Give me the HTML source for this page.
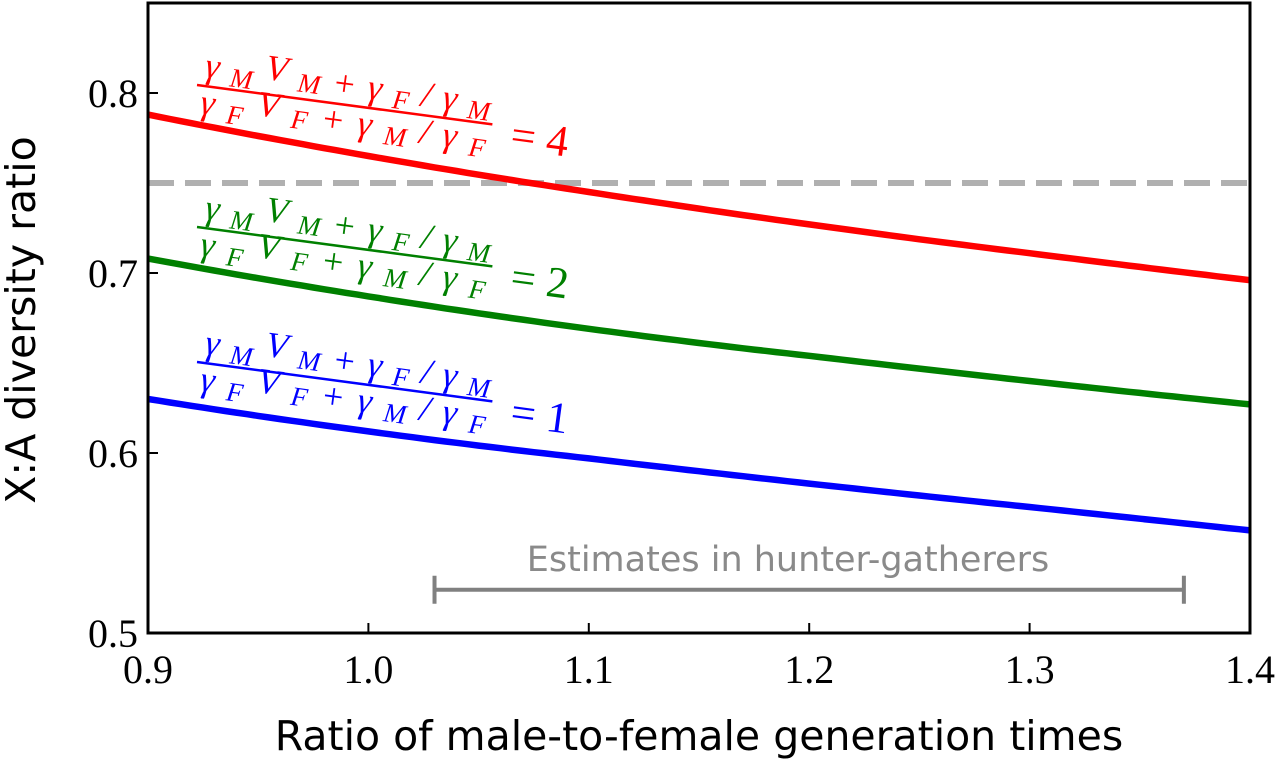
<!DOCTYPE html>
<html><head><meta charset="utf-8"><style>
body{margin:0;background:#fff;}
svg{display:block;}
</style></head><body>
<svg id="chart" width="1280" height="761" xmlns="http://www.w3.org/2000/svg">
<g id="plot"></g>
</svg>
<script>
const xs=[0.9,1.0,1.1,1.2,1.3,1.4];
const redVals=[0.788,0.765,0.745,0.727,0.711,0.696];
const greenVals=[0.708,0.687,0.669,0.654,0.640,0.627];
const blueVals=[0.630,0.612,0.597,0.583,0.570,0.557];
const xTicks=["0.9","1.0","1.1","1.2","1.3","1.4"];
const yTicks=["0.5","0.6","0.7","0.8"];
const refLine=0.75;
const estRange=[1.03,1.37];
const estY=0.524;

const NS="http://www.w3.org/2000/svg";
const L=148,R=1250,T=3,B=633;
const SERIF='font-family:"Liberation Serif",serif;';
const SANS='font-family:"DejaVu Sans","Liberation Sans",sans-serif;';
const X=v=>L+(v-0.9)/0.5*(R-L);
const Y=v=>B-(v-0.5)/0.35*(B-T);
const g=document.getElementById('plot');
function mk(t,a,p){const e=document.createElementNS(NS,t);for(const k in a)e.setAttribute(k,a[k]);(p||g).appendChild(e);return e;}

let e=mk('line',{x1:L,x2:R,y1:Y(refLine),y2:Y(refLine),stroke:'#b0b0b0','stroke-width':6,'stroke-dasharray':'26,11'});



function curve(vals,col,name){
  const d=[];
  for(let i=0;i<=100;i++){
    const x=0.9+i*0.005;const k=Math.min(4,Math.floor((x-0.9)/0.1));
    const j=Math.min(Math.max(k,1),xs.length-2);
    const x0=xs[j-1],x1=xs[j],x2=xs[j+1];
    const v=vals[j-1]*(x-x1)*(x-x2)/((x0-x1)*(x0-x2))+vals[j]*(x-x0)*(x-x2)/((x1-x0)*(x1-x2))+vals[j+1]*(x-x0)*(x-x1)/((x2-x0)*(x2-x1));
    d.push((i?'L':'M')+X(x).toFixed(1)+','+Y(v).toFixed(1));
  }
  const p=mk('path',{d:d.join(''),fill:'none',stroke:col,'stroke-width':6.5});
  
  
}
curve(redVals,'#ff0000','red-curve-ratio-4');
curve(greenVals,'#008000','green-curve-ratio-2');
curve(blueVals,'#0000ff','blue-curve-ratio-1');

const ey=Y(estY);
e=mk('path',{d:`M${X(estRange[0])},${ey-14}V${ey+14}M${X(estRange[0])},${ey}H${X(estRange[1])}M${X(estRange[1])},${ey-14}V${ey+14}`,stroke:'#808080','stroke-width':4,fill:'none'});


e=mk('text',{x:788,y:ey-19,'text-anchor':'middle',fill:'#8a8a8a','font-size':35,style:SANS});
e.textContent='Estimates in hunter-gatherers';



function label(x0,y0,col,n,name){
  const gg=mk('g',{transform:`translate(${x0},${y0}) rotate(7.6)`,fill:col});
  
  
  const st='font-family:&quot;Liberation Serif&quot;,serif;font-style:italic;';
  gg.innerHTML=`<text style="${st}" font-size="36" x="6" y="-9" textLength="288" lengthAdjust="spacing">γ<tspan font-size="27" dy="6">M</tspan><tspan dy="-12">V</tspan><tspan font-size="27" dy="8">M</tspan><tspan dy="-2">+γ</tspan><tspan font-size="27" dy="6">F</tspan><tspan dy="-6">/γ</tspan><tspan font-size="27" dy="6">M</tspan></text>
<line x1="0" y1="0" x2="298" y2="0" stroke="${col}" stroke-width="2.5"/>
<text style="${st}" font-size="36" x="6" y="28" textLength="288" lengthAdjust="spacing">γ<tspan font-size="27" dy="6">F</tspan><tspan dy="-12">V</tspan><tspan font-size="27" dy="8">F</tspan><tspan dy="-2">+γ</tspan><tspan font-size="27" dy="6">M</tspan><tspan dy="-6">/γ</tspan><tspan font-size="27" dy="6">F</tspan></text>
<text style="font-family:&quot;Liberation Serif&quot;,serif;" font-size="44" x="318" y="22">= ${n}</text>`;
}
label(197,85,'#ff0000','4','label-ratio-4');
label(197,227,'#008000','2','label-ratio-2');
label(197,362,'#0000ff','1','label-ratio-1');

e=mk('rect',{x:L,y:T,width:R-L,height:B-T,fill:'none',stroke:'#000','stroke-width':3});



xTicks.forEach(t=>{
  const x=X(+t);
  mk('line',{x1:x,x2:x,y1:B,y2:B-10,stroke:'#000','stroke-width':2});
  const tx=mk('text',{x:x,y:B+50,'text-anchor':'middle','font-size':40,style:SERIF});tx.textContent=t;
  
  
});
yTicks.forEach(t=>{
  const y=Y(+t);
  mk('line',{x1:L,x2:L+10,y1:y,y2:y,stroke:'#000','stroke-width':2});
  const tx=mk('text',{x:L-10,y:y+14,'text-anchor':'end','font-size':40,style:SERIF});tx.textContent=t;
  
  
});
e=mk('text',{x:699,y:750,'text-anchor':'middle','font-size':41,style:SANS});e.textContent='Ratio of male-to-female generation times';


e=mk('text',{x:0,y:0,'text-anchor':'middle','font-size':41,style:SANS,transform:'translate(35,320) rotate(-90)'});e.textContent='X:A diversity ratio';


</script>
</body></html>
